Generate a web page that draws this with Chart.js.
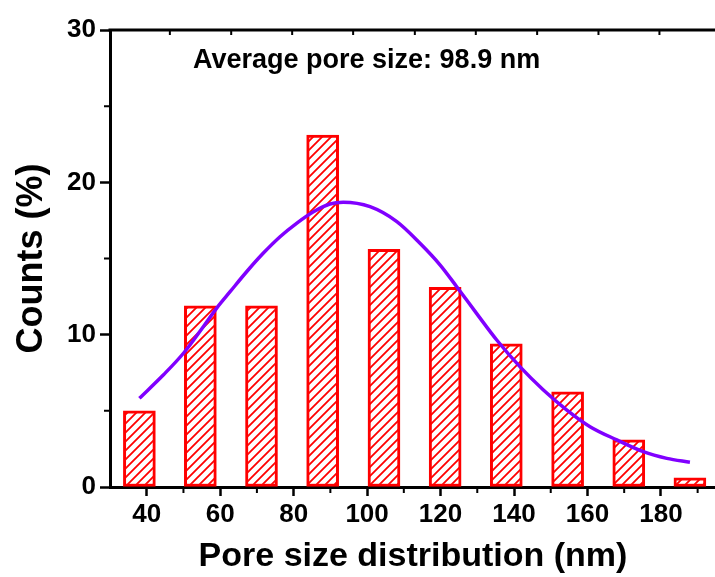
<!DOCTYPE html>
<html>
<head>
<meta charset="utf-8">
<script src="https://cdn.jsdelivr.net/npm/chart.js@4.4.1/dist/chart.umd.min.js"></script>
<style>
  html, body { margin: 0; padding: 0; background: #fff; }
  #wrap { width: 715px; height: 577px; overflow: hidden; }
</style>
</head>
<body>
<div id="wrap"><canvas id="poreChart" width="725" height="577"></canvas></div>
<script>
// histogram bins (nm) and counts (%)
const binCenters = [38, 54.6, 71.25, 87.9, 104.6, 121.25, 137.9, 154.6, 171.25, 187.9];
const counts = [5.0, 11.9, 11.9, 23.1, 15.6, 13.1, 9.4, 6.25, 3.1, 0.6];
const binEdges = [46.3, 63, 79.6, 96.2, 113, 129.6, 146.3, 163, 179.6];

// fitted distribution curve
const fitX = [38, 44.5, 50, 55.4, 59, 62.7, 67.2, 71.7, 76.3, 80.8, 85.4, 89.9, 93.5,
              100.8, 108.1, 114.4, 119.9, 124.4, 129.8, 135.3, 141.6, 148, 154.4, 160.7,
              168, 175.2, 181.6, 187.9];
const fitY = [5.82, 7.35, 8.78, 10.52, 11.73, 12.82, 14.13, 15.34, 16.43, 17.31, 18.07, 18.58, 18.69,
              18.4, 17.42, 16.0, 14.57, 13.15, 11.4, 9.65, 7.9, 6.37, 5.05, 3.96,
              3.09, 2.32, 1.88, 1.62];

// axis ticks
const xTicks = [40, 60, 80, 100, 120, 140, 160, 180];
const xMinor = [50, 70, 90, 110, 130, 150, 170, 190];
const yTicks = [0, 10, 20, 30];
const yMinor = [5, 15, 25];

const noteText = 'Average pore size: 98.9 nm';
const fontFamily = '"Liberation Sans", Arial, sans-serif';

// diagonal hatch for the bars
function makeHatch() {
    const c = document.createElement('canvas');
    c.width = 9; c.height = 9;
    const g = c.getContext('2d');
    g.fillStyle = '#fff';
    g.fillRect(0, 0, 9, 9);
    g.strokeStyle = '#ff0000';
    g.lineWidth = 1.8;
    g.beginPath();
    g.moveTo(-1, 10); g.lineTo(10, -1);
    g.moveTo(-1, 1); g.lineTo(1, -1);
    g.moveTo(8, 10); g.lineTo(10, 8);
    g.stroke();
    return g.createPattern(c, 'repeat');
}

const decorPlugin = {
    id: 'decor',
    afterDraw(chart) {
        const { ctx, chartArea, scales } = chart;
        const xs = scales.x, ys = scales.y;
        ctx.save();
        ctx.strokeStyle = '#000';
        ctx.lineWidth = 3;
        ctx.beginPath();
        ctx.moveTo(chartArea.left - 1.5, chartArea.top);
        ctx.lineTo(chartArea.right, chartArea.top);
        ctx.stroke();

        ctx.lineWidth = 2;
        ctx.beginPath();
        binEdges.forEach(v => {
            const px = xs.getPixelForValue(v);
            ctx.moveTo(px, chartArea.top);
            ctx.lineTo(px, chartArea.top + 5);
        });
        xMinor.forEach(v => {
            const px = xs.getPixelForValue(v);
            ctx.moveTo(px, chartArea.bottom);
            ctx.lineTo(px, chartArea.bottom + 6);
        });
        yMinor.forEach(v => {
            const py = ys.getPixelForValue(v);
            ctx.moveTo(chartArea.left, py);
            ctx.lineTo(chartArea.left - 6, py);
        });
        ctx.stroke();

        ctx.font = 'bold 27px ' + fontFamily;
        ctx.fillStyle = '#000';
        ctx.textBaseline = 'alphabetic';
        ctx.fillText(noteText, chartArea.left + 83, chartArea.top + 38);
        ctx.restore();
    }
};

const ctx = document.getElementById('poreChart').getContext('2d');

const data = {
    datasets: [
        {
            type: 'line',
            data: fitX.map((x, i) => ({ x: x, y: fitY[i] })),
            borderColor: '#8000ff',
            borderWidth: 3.5,
            pointRadius: 0,
            cubicInterpolationMode: 'monotone',
            fill: false,
            order: 0
        },
        {
            type: 'bar',
            data: binCenters.map((x, i) => ({ x: x, y: counts[i] })),
            backgroundColor: makeHatch(),
            borderColor: '#ff0000',
            borderWidth: 3,
            borderSkipped: false,
            barThickness: 32,
            order: 1
        }
    ]
};

const tickFont = { family: fontFamily, size: 26, weight: 'bold' };

const options = {
    responsive: false,
    animation: false,
    layout: { padding: { top: 30, right: 9, left: 0, bottom: 0 } },
    plugins: { legend: { display: false }, tooltip: { enabled: false } },
    scales: {
        x: {
            type: 'linear',
            offset: false,
            min: 30,
            max: 195,
            afterBuildTicks: s => { s.ticks = xTicks.map(v => ({ value: v })); },
            afterFit: s => { s.height = 90; },
            grid: { offset: false, drawOnChartArea: false, tickLength: 9, tickWidth: 2.5, tickColor: '#000' },
            border: { color: '#000', width: 3 },
            ticks: { color: '#000', font: tickFont, padding: 3, maxRotation: 0, autoSkip: false },
            title: {
                display: true,
                text: 'Pore size distribution (nm)',
                color: '#000',
                font: { family: fontFamily, size: 34, weight: 'bold' },
                padding: { top: 0, bottom: 0 }
            }
        },
        y: {
            min: 0,
            max: 30,
            afterBuildTicks: s => { s.ticks = yTicks.map(v => ({ value: v })); },
            afterFit: s => { s.width = 110; },
            grid: { drawOnChartArea: false, tickLength: 10, tickWidth: 2.5, tickColor: '#000' },
            border: { color: '#000', width: 3 },
            ticks: { color: '#000', font: tickFont, padding: 4 },
            title: {
                display: true,
                text: 'Counts (%)',
                color: '#000',
                font: { family: fontFamily, size: 36, weight: 'bold' },
                padding: { top: 10, bottom: 0 }
            }
        }
    }
};

new Chart(ctx, { data: data, options: options, plugins: [decorPlugin] });
</script>
</body>
</html>
